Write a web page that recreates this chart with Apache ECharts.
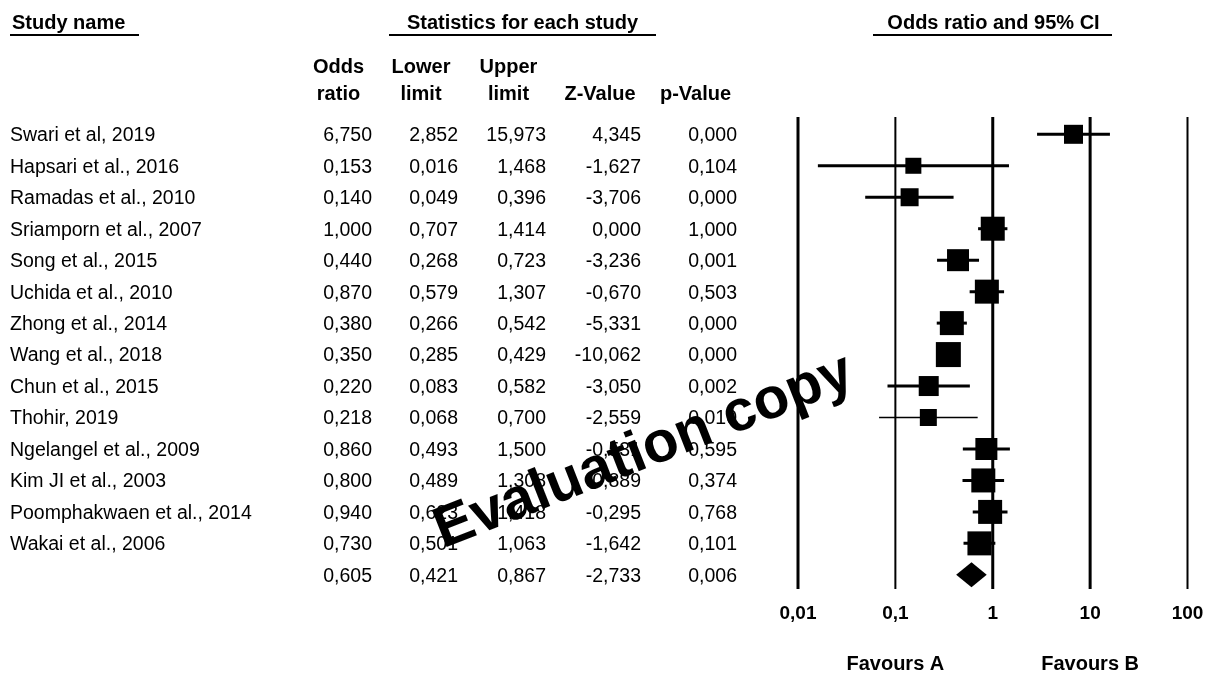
<!DOCTYPE html>
<html><head><meta charset="utf-8">
<script src="https://cdn.jsdelivr.net/npm/echarts@6/dist/echarts.min.js"></script>
<style>html,body{margin:0;padding:0;background:#fff}#c{width:1212px;height:674px}</style>
</head><body><div id="c"></div>
<script>
// ---------------- data ----------------
const studies = ['Swari et al, 2019','Hapsari et al., 2016','Ramadas et al., 2010','Sriamporn et al., 2007','Song et al., 2015','Uchida et al., 2010','Zhong et al., 2014','Wang et al., 2018','Chun et al., 2015','Thohir, 2019','Ngelangel et al., 2009','Kim JI et al., 2003','Poomphakwaen et al., 2014','Wakai et al., 2006'];
const oddsRatio  = [6.750,0.153,0.140,1.000,0.440,0.870,0.380,0.350,0.220,0.218,0.860,0.800,0.940,0.730];
const lowerLimit = [2.852,0.016,0.049,0.707,0.268,0.579,0.266,0.285,0.083,0.068,0.493,0.489,0.623,0.501];
const upperLimit = [15.973,1.468,0.396,1.414,0.723,1.307,0.542,0.429,0.582,0.700,1.500,1.308,1.418,1.063];
const zValue     = [4.345,-1.627,-3.706,0.000,-3.236,-0.670,-5.331,-10.062,-3.050,-2.559,-0.531,-0.889,-0.295,-1.642];
const pValue     = [0.000,0.104,0.000,1.000,0.001,0.503,0.000,0.000,0.002,0.010,0.595,0.374,0.768,0.101];
const studyWeight = [0.76,0.64,0.72,0.96,0.88,0.96,0.96,1.00,0.80,0.68,0.88,0.96,0.96,0.96]; // relative weight (box size)
const summaryStats = [0.605,0.421,0.867,-2.733,0.006]; // OR, lower, upper, Z, p
const xTickValues = [0.01,0.1,1,10,100];
const xTickLabels = ['0,01','0,1','1','10','100'];
const favourLabels = ['Favours A','Favours B'];
const columnHeaders = [['Odds','ratio'],['Lower','limit'],['Upper','limit'],['','Z-Value'],['','p-Value']];
const sectionTitles = ['Study name','Statistics for each study','Odds ratio and 95% CI'];
const watermark = 'Evaluation copy';

// ---------------- layout / style ----------------
const FONT = 'Liberation Sans, Arial, sans-serif';
const BODY = 19.5, HEAD = 20;
const TY = 1.5; // text vertical nudge
const colRight = [372, 458, 546, 641, 737];
const colHeadCenter = [338.5, 421, 508.5, 600, 695.5];
const vlineWidths = [3, 2, 3, 3, 2];
const thinWhisker = new Set([9]);
const BOX = 25;
const nRows = studies.length + 1;
const yMin = -0.55, yMax = nRows - 0.55;
const fmt = v => v.toFixed(3).replace('.', ',');

const chart = echarts.init(document.getElementById('c'), null, {renderer: 'canvas'});

const tableData = [];
for (let i = 0; i < nRows; i++) tableData.push([1, i]);

const forestData = studies.map((s, i) => [oddsRatio[i], i, lowerLimit[i], upperLimit[i], studyWeight[i]]);
const summaryData = [[summaryStats[0], studies.length, summaryStats[1], summaryStats[2]]];

const graphics = [];
const titlePos = [{x: 12, align: 'left', l1: 10, l2: 139}, {x: 522.5, align: 'center', l1: 389, l2: 656}, {x: 993.5, align: 'center', l1: 873, l2: 1112}];
sectionTitles.forEach((t, k) => {
  const p = titlePos[k];
  graphics.push({type: 'text', x: p.x, y: 22 + TY, style: {text: t, font: `bold ${HEAD}px ${FONT}`, fill: '#000', align: p.align, verticalAlign: 'middle'}});
  graphics.push({type: 'line', shape: {x1: p.l1, y1: 35, x2: p.l2, y2: 35}, style: {stroke: '#000', lineWidth: 2}});
});
columnHeaders.forEach((h, k) => {
  [66, 92.5].forEach((yy, j) => {
    if (h[j]) graphics.push({type: 'text', x: colHeadCenter[k], y: yy + TY, style: {text: h[j], font: `bold ${HEAD}px ${FONT}`, fill: '#000', align: 'center', verticalAlign: 'middle'}});
  });
});
graphics.push({type: 'text', x: 644, y: 452, rotation: 21.5 * Math.PI / 180, z: 100,
  style: {text: watermark, font: `bold 58px ${FONT}`, fill: '#000', align: 'center', verticalAlign: 'middle'}});

const logAxisBase = {type: 'log', logBase: 10, min: 0.01, max: 100, gridIndex: 0,
  axisLine: {show: false}, axisTick: {show: false}, splitLine: {show: false}, minorTick: {show: false}};

chart.setOption({
  animation: false,
  backgroundColor: '#fff',
  grid: {left: 798, right: 24.5, top: 117, bottom: 84, containLabel: false},
  xAxis: [
    Object.assign({}, logAxisBase, {position: 'bottom',
      axisLabel: {color: '#000', fontFamily: FONT, fontWeight: 'bold', fontSize: 19, margin: 15,
        formatter: v => xTickLabels[Math.round(Math.log10(v)) + 2] || ''}}),
    Object.assign({}, logAxisBase, {position: 'bottom',
      axisLabel: {color: '#000', fontFamily: FONT, fontWeight: 'bold', fontSize: HEAD, margin: 65,
        formatter: v => { const e = Math.round(Math.log10(v)); return e === -1 ? favourLabels[0] : (e === 1 ? favourLabels[1] : ''); }}})
  ],
  yAxis: {type: 'value', min: yMin, max: yMax, inverse: true, show: false},
  graphic: graphics,
  series: [
    {
      type: 'custom', xAxisIndex: 0, silent: true, clip: false,
      data: xTickValues.map((v, k) => [v, k]),
      encode: {x: 0},
      renderItem: (params, api) => {
        const v = api.value(0), k = api.value(1);
        const a = api.coord([v, yMin]), b = api.coord([v, yMax]);
        return {type: 'line', shape: {x1: a[0], y1: a[1], x2: b[0], y2: b[1]}, style: {stroke: '#000', lineWidth: vlineWidths[k]}};
      }
    },
    {
      type: 'custom', xAxisIndex: 0, silent: true, clip: false,
      data: forestData, encode: {x: 0, y: 1},
      renderItem: (params, api) => {
        const i = api.value(1);
        const c = api.coord([api.value(0), i]);
        const l = api.coord([api.value(2), i]);
        const h = api.coord([api.value(3), i]);
        const s = api.value(4) * BOX;
        return {type: 'group', children: [
          {type: 'line', shape: {x1: l[0], y1: c[1], x2: h[0], y2: c[1]}, style: {stroke: '#000', lineWidth: thinWhisker.has(params.dataIndex) ? 1.5 : 3}},
          {type: 'rect', shape: {x: c[0] - s / 2, y: c[1] - s / 2, width: s, height: s}, style: {fill: '#000'}}
        ]};
      }
    },
    {
      type: 'custom', xAxisIndex: 0, silent: true, clip: false,
      data: summaryData, encode: {x: 0, y: 1},
      renderItem: (params, api) => {
        const i = api.value(1);
        const c = api.coord([api.value(0), i]);
        const l = api.coord([api.value(2), i]);
        const h = api.coord([api.value(3), i]);
        const hh = BOX / 2;
        return {type: 'polygon', shape: {points: [[l[0], c[1]], [c[0], c[1] - hh], [h[0], c[1]], [c[0], c[1] + hh]]}, style: {fill: '#000'}};
      }
    },
    {
      type: 'custom', xAxisIndex: 0, silent: true, clip: false,
      data: tableData, encode: {x: 0, y: 1},
      renderItem: (params, api) => {
        const i = api.value(1);
        const y = api.coord([1, i])[1] + TY;
        const vals = i < studies.length
          ? [oddsRatio[i], lowerLimit[i], upperLimit[i], zValue[i], pValue[i]]
          : summaryStats;
        const children = [];
        if (i < studies.length) children.push({type: 'text', x: 10, y: y, style: {text: studies[i], font: `${BODY}px ${FONT}`, fill: '#000', align: 'left', verticalAlign: 'middle'}});
        vals.forEach((v, k) => children.push({type: 'text', x: colRight[k], y: y, style: {text: fmt(v), font: `${BODY}px ${FONT}`, fill: '#000', align: 'right', verticalAlign: 'middle'}}));
        return {type: 'group', children};
      }
    }
  ]
});
</script></body></html>
